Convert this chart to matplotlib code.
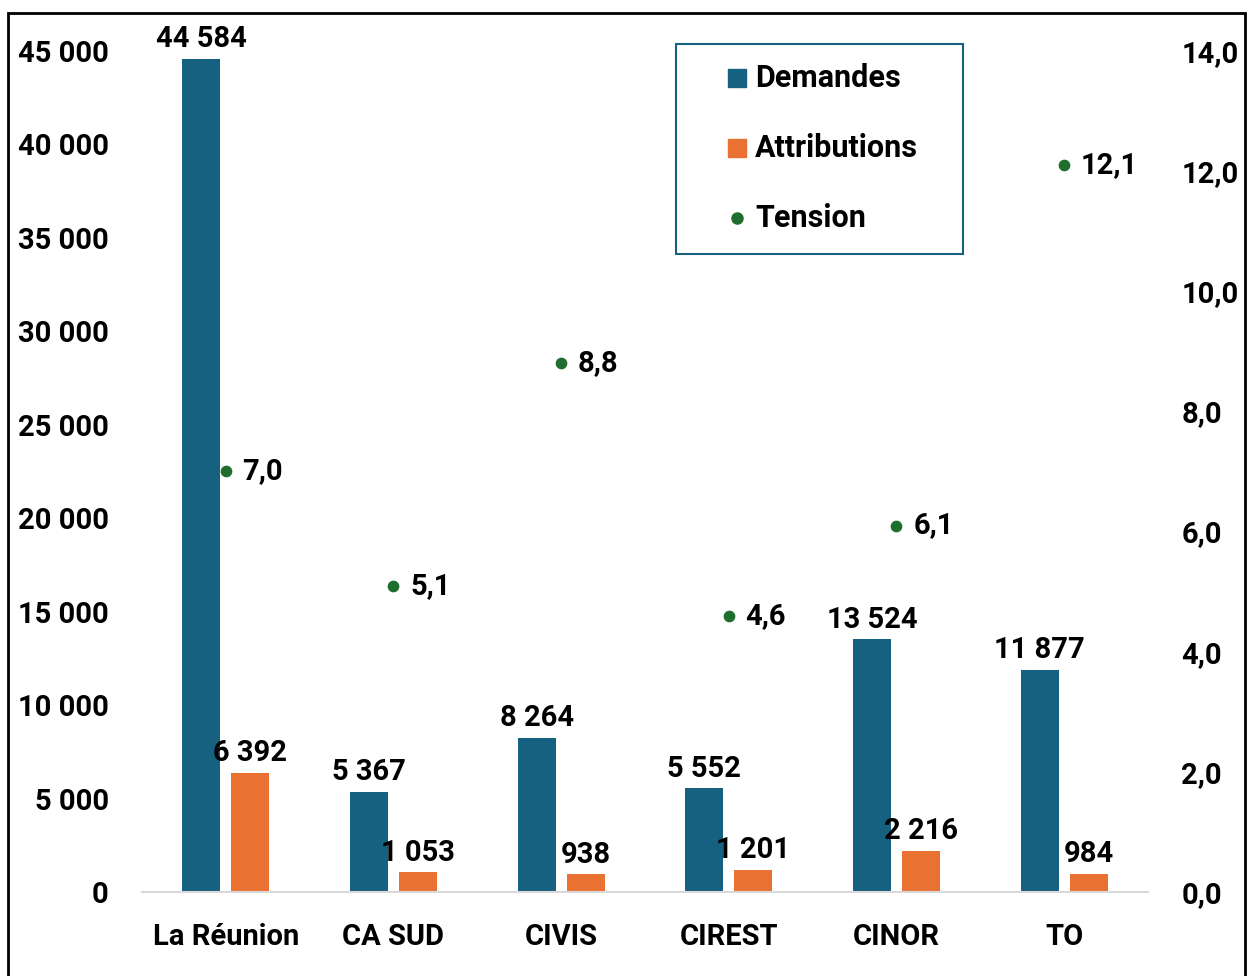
import matplotlib
matplotlib.use("Agg")
import matplotlib.pyplot as plt
from matplotlib.patches import Rectangle
from matplotlib.lines import Line2D
from matplotlib.ticker import FuncFormatter
import numpy as np

categories = ["La Réunion", "CA SUD", "CIVIS", "CIREST", "CINOR", "TO"]
demandes = [44584, 5367, 8264, 5552, 13524, 11877]
attributions = [6392, 1053, 938, 1201, 2216, 984]
tension = [7.0, 5.1, 8.8, 4.6, 6.1, 12.1]
legend_labels = ["Demandes", "Attributions", "Tension"]

BLUE = "#166080"
ORANGE = "#e97132"
GREEN = "#1e6e2e"

plt.rcParams['font.family'] = ['Roboto', 'DejaVu Sans']
plt.rcParams['font.weight'] = 'bold'
FS = 21

W, H = 1249, 976
fig = plt.figure(figsize=(W/100, H/100), dpi=100)
ax = fig.add_axes([142/W, 1-892/H, (1148-142)/W, (892-51)/H])
ax2 = ax.twinx()

x = np.arange(len(categories))
w = 0.227
off = 0.146
b1 = ax.bar(x - off, demandes, w, color=BLUE, zorder=2)
b2 = ax.bar(x + off, attributions, w, color=ORANGE, zorder=2)

def fmt_thousands(v):
    return f"{int(round(v)):,}".replace(",", " ")

for rect, v in zip(b1, demandes):
    ax.annotate(fmt_thousands(v), (rect.get_x() + rect.get_width()/2, v),
                xytext=(0, 4), textcoords="offset points", ha="center", va="bottom",
                fontsize=FS, fontweight="bold")
for rect, v in zip(b2, attributions):
    ax.annotate(fmt_thousands(v), (rect.get_x() + rect.get_width()/2, v),
                xytext=(0, 4), textcoords="offset points", ha="center", va="bottom",
                fontsize=FS, fontweight="bold")

ax.set_xlim(-0.5, len(categories) - 0.5)
ax.set_ylim(0, 45000)
ax.set_yticks(np.arange(0, 45001, 5000))
ax.yaxis.set_major_formatter(FuncFormatter(lambda v, p: fmt_thousands(v)))
ax.set_xticks(x)
ax.set_xticklabels(categories, fontsize=FS, fontweight="bold")
ax.tick_params(axis="x", length=0, pad=22)
ax.tick_params(axis="y", length=0, labelsize=FS, pad=24)
for s in ["top", "right", "left"]:
    ax.spines[s].set_visible(False)
ax.spines["bottom"].set_color("#d9d9d9")
ax.spines["bottom"].set_linewidth(1.5)

ax2.scatter(x, tension, s=55, color=GREEN, zorder=3)
for xi, t in zip(x, tension):
    ax2.annotate(f"{t:.1f}".replace(".", ","), (xi, t), xytext=(12, 0),
                 textcoords="offset points", ha="left", va="center",
                 fontsize=FS, fontweight="bold")
ax2.set_ylim(0, 14)
ax2.set_yticks(np.arange(0, 14.01, 2))
ax2.yaxis.set_major_formatter(FuncFormatter(lambda v, p: f"{v:.1f}".replace(".", ",")))
ax2.tick_params(axis="y", length=0, labelsize=FS, pad=24)
for s in ["top", "right", "left", "bottom"]:
    ax2.spines[s].set_visible(False)

# Legend box (drawn manually in figure pixel coordinates)
def fx(px):
    return px / W
def fy(py):
    return 1 - py / H

fig.add_artist(Rectangle((fx(676), fy(254)), fx(963) - fx(676), fy(44) - fy(254),
                         transform=fig.transFigure, fill=True, facecolor="white",
                         edgecolor=BLUE, linewidth=1.5, zorder=5))
styles = [("s", 13, BLUE), ("s", 13, ORANGE), ("o", 8, GREEN)]
rows = [78, 148, 218]
for (m, ms, c), lab, ry in zip(styles, legend_labels, rows):
    fig.add_artist(Line2D([fx(737)], [fy(ry)], marker=m, markersize=ms, color=c,
                          linestyle="none", transform=fig.transFigure, zorder=6))
    fig.text(fx(755), fy(ry), lab, ha="left", va="center", fontsize=FS + 1,
             fontweight="bold", zorder=6)

fig.add_artist(Rectangle((8/W, -0.05), (1245-8)/W, 1.05 - 13/H,
                         transform=fig.transFigure, fill=False,
                         edgecolor="black", linewidth=2))

fig.savefig("out.png", dpi=100)
